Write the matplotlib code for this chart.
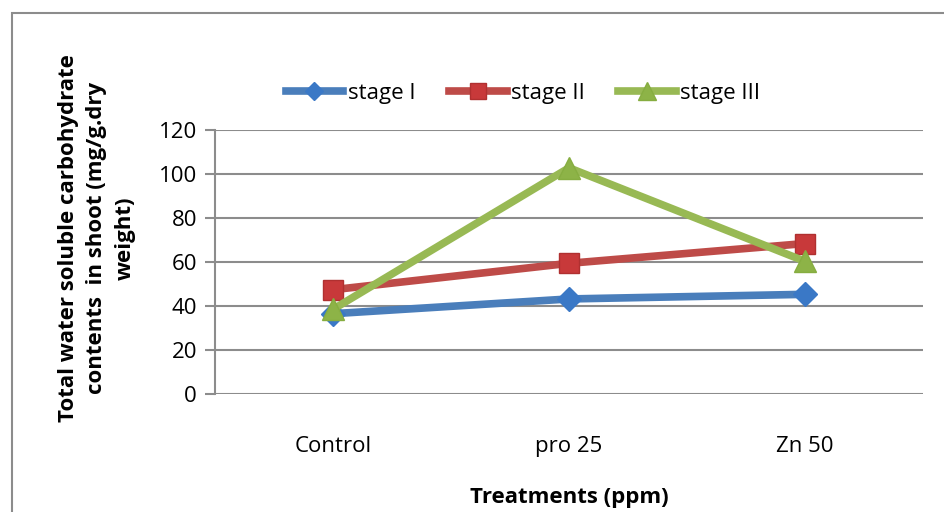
import matplotlib.pyplot as plt
from matplotlib.patches import Rectangle
import numpy as np

plt.rcParams['font.family'] = ['Open Sans', 'DejaVu Sans']

treatments = ['Control', 'pro 25', 'Zn 50']
stage_1 = [36.5, 43.2, 45.3]
stage_2 = [47.4, 59.4, 68.4]
stage_3 = [38.5, 102.8, 60.3]
y_ticks = [0, 20, 40, 60, 80, 100, 120]

fig = plt.figure(figsize=(9.44, 5.12), dpi=100)
ax = fig.add_axes([0.2278, 0.2305, 0.7500, 0.5156])

# outer chart frame (cut by the image edge on right and bottom)
fig.patches.append(Rectangle((12 / 944, -0.1), 1.2, 1 - 13 / 512 + 0.1,
                             transform=fig.transFigure, fill=False,
                             edgecolor='#8c8c8c', linewidth=1.5))

x = np.arange(len(treatments))
ax.plot(x, stage_1, color='#4a7ebb', lw=5.5, marker='D', ms=12,
        mfc='#3a78c6', mec='#3a78c6', label='stage I', zorder=3)
ax.plot(x, stage_2, color='#be4b48', lw=5.5, marker='s', ms=15,
        mfc='#c8393a', mec='#b03030', label='stage II', zorder=4)
ax.plot(x, stage_3, color='#98b954', lw=5.5, marker='^', ms=16,
        mfc='#8db347', mec='#86ad40', label='stage III', zorder=5)

ax.set_xlim(-0.5, 2.5)
ax.set_ylim(0, 120)
ax.set_yticks(y_ticks)
ax.set_xticks(x)
ax.set_xticklabels(treatments)
ax.grid(axis='y', color='#8c8c8c', lw=1.5)
ax.set_axisbelow(True)
for s in ['top', 'right', 'bottom']:
    ax.spines[s].set_visible(False)
ax.spines['left'].set_color('#8c8c8c')
ax.spines['left'].set_linewidth(1.5)
ax.tick_params(axis='y', length=7, width=1.5, color='#8c8c8c', labelsize=16, pad=6)
ax.tick_params(axis='x', length=0, labelsize=16, pad=30)

ax.set_xlabel('Treatments (ppm)', fontsize=16, fontweight='bold', labelpad=22)
fig.text(97 / 944, 1 - 238 / 512,
         'Total water soluble carbohydrate\ncontents  in shoot (mg/g.dry\nweight)',
         rotation=90, ha='center', va='center', fontsize=16, fontweight='bold',
         linespacing=1.45)

ax.legend(loc='center', bbox_to_anchor=(0.435, 1.14), ncol=3, frameon=False,
          fontsize=16, handlelength=2.6, columnspacing=1.5, handletextpad=0.2,
          markerscale=0.8)

fig.savefig('out.png', dpi=100)
